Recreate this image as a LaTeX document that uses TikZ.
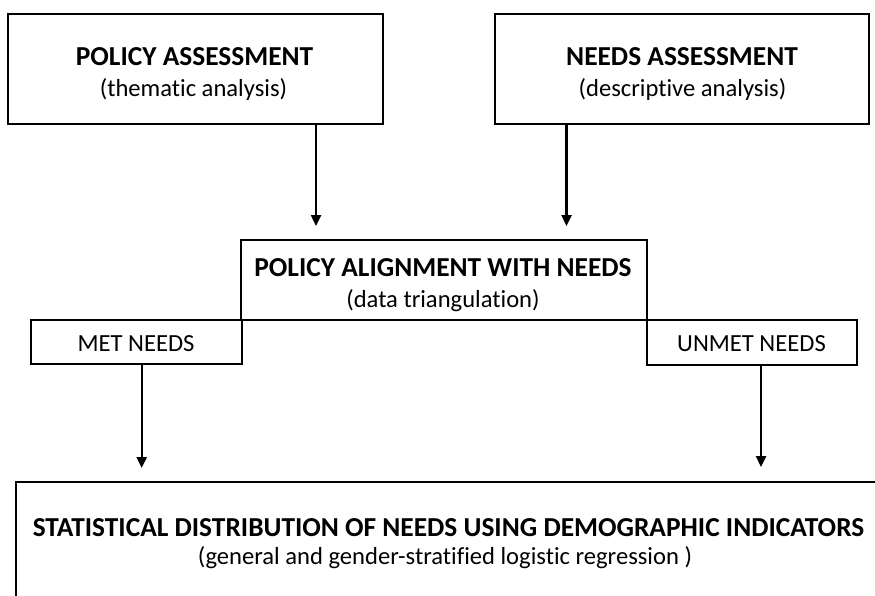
\documentclass[tikz,border=0pt]{standalone}
\usepackage{fontspec}
\setmainfont{Carlito}[Ligatures={NoCommon}]
\usetikzlibrary{arrows.meta}
\begin{document}
\begin{tikzpicture}[x=1pt,y=-1pt,
  box/.style={draw=black,line width=2.8pt,rectangle,inner sep=0pt},
  ttl/.style={anchor=base,inner sep=0pt,font=\fontsize{27.4}{30}\selectfont\bfseries},
  sub/.style={anchor=base,inner sep=0pt,font=\fontsize{24.6}{28}\selectfont},
  arr/.style={line width=2.4pt,-{Triangle[width=10pt,length=11pt]}}]
\useasboundingbox (0,0) rectangle (875,596);
\clip (0,0) rectangle (875,596);
% boxes
\node[box,minimum width=375pt,minimum height=110pt] (pa) at (195.5,69) {};
\node[box,minimum width=374pt,minimum height=110pt] (na) at (682,69) {};
\node[box,minimum width=406pt,minimum height=80pt] (al) at (444,280) {};
\node[box,minimum width=211pt,minimum height=44pt] (met) at (136.5,342) {};
\node[box,minimum width=210pt,minimum height=45pt] (unmet) at (752,342.5) {};
\node[box,minimum width=864pt,minimum height=140pt] (sd) at (448,552) {};
% texts
\node[ttl] (pat) at (194.5,66) {POLICY ASSESSMENT};
\node[sub] (pas) at (193.5,97) {(thematic analysis)};
\node[ttl] (nat) at (682,66) {NEEDS ASSESSMENT};
\node[sub] (nas) at (682.5,97) {(descriptive analysis)};
\node[ttl] (alt) at (443,276) {POLICY ALIGNMENT WITH NEEDS};
\node[sub] (als) at (443,307) {(data triangulation)};
\node[sub] (mett) at (136,351) {MET NEEDS};
\node[sub] (unmett) at (751.5,351) {UNMET NEEDS};
\node[ttl] (sdt) at (448.5,536) {STATISTICAL DISTRIBUTION OF NEEDS USING DEMOGRAPHIC INDICATORS};
\node[sub] (sds) at (445,564) {(general and gender-stratified logistic regression )};
% arrows
\coordinate (t1) at (316,226);
\coordinate (t2) at (566.5,226);
\coordinate (t3) at (141.7,468);
\coordinate (t4) at (761,467);
\draw[arr] (pa.south -| t1) -- (t1);
\draw[arr] (na.south -| t2) -- (t2);
\draw[arr] (met.south -| t3) -- (t3);
\draw[arr] (unmet.south -| t4) -- (t4);
\end{tikzpicture}
\end{document}
